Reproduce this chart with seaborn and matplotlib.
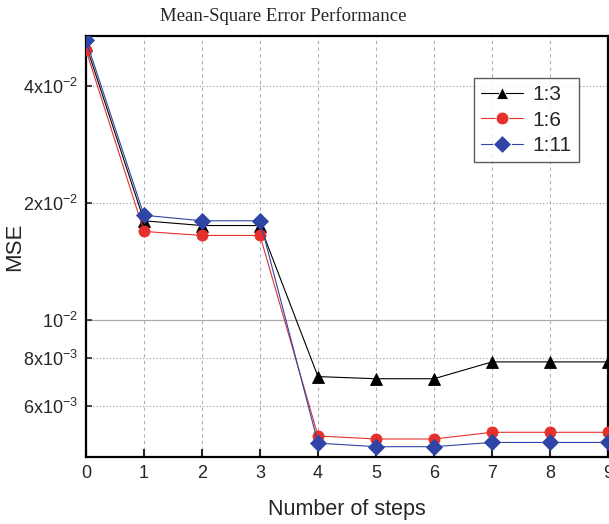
import numpy as np
import pandas as pd
import matplotlib
matplotlib.use("Agg")
import matplotlib.pyplot as plt
import seaborn as sns

# data
steps = [0, 1, 2, 3, 4, 5, 6, 7, 8, 9]
mse_1_3 = [0.0510, 0.0180, 0.0175, 0.0175, 0.00715, 0.00706, 0.00706, 0.00780, 0.00780, 0.00780]
mse_1_6 = [0.0495, 0.0169, 0.0165, 0.0165, 0.00503, 0.00494, 0.00494, 0.00514, 0.00514, 0.00514]
mse_1_11 = [0.0525, 0.0186, 0.0180, 0.0180, 0.00482, 0.00472, 0.00472, 0.00484, 0.00484, 0.00484]
series_names = ["1:3", "1:6", "1:11"]

ytick_major = [1e-2]
ytick_major_labels = [r"10$^{-2}$"]
ytick_minor = [6e-3, 8e-3, 2e-2, 4e-2]
ytick_minor_labels = [r"6x10$^{-3}$", r"8x10$^{-3}$", r"2x10$^{-2}$", r"4x10$^{-2}$"]

df = pd.DataFrame({
    "step": steps * 3,
    "mse": mse_1_3 + mse_1_6 + mse_1_11,
    "ratio": [series_names[0]] * 10 + [series_names[1]] * 10 + [series_names[2]] * 10,
})

sns.set_style("ticks")
plt.rcParams["font.family"] = ["Liberation Sans", "DejaVu Sans"]
plt.rcParams["mathtext.fontset"] = "custom"
plt.rcParams["mathtext.rm"] = "Liberation Sans"
plt.rcParams["mathtext.default"] = "regular"

colors = {"1:3": "#000000", "1:6": "#e4312b", "1:11": "#2e45a5"}
markers = {"1:3": "^", "1:6": "o", "1:11": "D"}

fig = plt.figure(figsize=(6.09, 5.24), dpi=100)
ax = fig.add_axes([86 / 609, 1 - 457 / 524, 522 / 609, 421 / 524])

sns.lineplot(data=df, x="step", y="mse", hue="ratio", style="ratio",
             palette=colors, markers=markers, dashes=False,
             linewidth=0.8, markersize=8, markeredgewidth=0.6,
             ax=ax, zorder=3)
for line, name in zip(ax.lines, series_names):
    line.set_markeredgecolor(colors[name])

ax.set_yscale("log")
ax.set_xlim(0, 9)
ax.set_ylim(4.44e-3, 0.0538)
ax.set_xticks(steps)
ax.set_xticklabels([str(s) for s in steps], fontsize=13)
ax.set_yticks(ytick_major)
ax.set_yticklabels(ytick_major_labels, fontsize=13)
ax.set_yticks(ytick_minor, minor=True)
ax.set_yticklabels(ytick_minor_labels, minor=True, fontsize=13)

ax.tick_params(axis="both", which="both", direction="in", length=6, width=1.5, pad=6)
ax.tick_params(axis="y", which="both", length=4, width=1.2)

ax.grid(True, axis="x", linestyle=(0, (3, 3)), color="#b0b0b0", linewidth=0.8)
ax.grid(True, axis="y", which="major", linestyle="-", color="#aaaaaa", linewidth=0.9)
ax.grid(True, axis="y", which="minor", linestyle=(0, (1, 2)), color="#999999", linewidth=0.8)
ax.set_axisbelow(True)

for sp in ax.spines.values():
    sp.set_linewidth(1.6)
    sp.set_color("black")

ax.set_xlabel("Number of steps", fontsize=15.5, labelpad=12)
ax.set_ylabel("MSE", fontsize=16)
ax.yaxis.set_label_coords(-0.116, 0.5)
fig.text(283 / 609, 1 - 16 / 524, "Mean-Square Error Performance", fontsize=13.5,
         family=["Liberation Serif", "DejaVu Serif"], ha="center", va="center")

leg = ax.legend(loc="upper right", bbox_to_anchor=(0.944, 0.900), fontsize=15,
                frameon=True, fancybox=False, edgecolor="#333333",
                handlelength=2.0, borderpad=0.35, labelspacing=0.3,
                handletextpad=0.45, borderaxespad=0, markerscale=1.15)
leg.get_frame().set_linewidth(1.0)

fig.savefig("out.png", dpi=100)
